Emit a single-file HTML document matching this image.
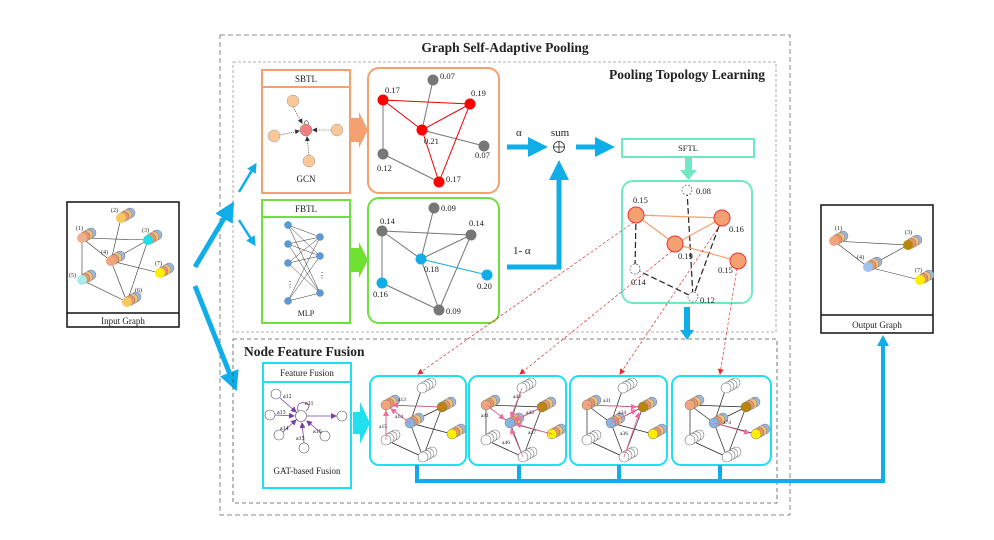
<!DOCTYPE html>
<html><head><meta charset="utf-8"><style>
html,body{margin:0;padding:0;background:#fff;width:994px;height:540px;overflow:hidden}
svg{display:block}
text{font-family:"Liberation Serif",serif;fill:#222}
</style></head><body>
<svg width="994" height="540" viewBox="0 0 994 540" xmlns="http://www.w3.org/2000/svg">
<defs>
<marker id="ab" markerWidth="4" markerHeight="4" refX="2" refY="2" orient="auto" markerUnits="strokeWidth"><path d="M0,0 L4,2 L0,4 z" fill="#10aee8"/></marker>
<marker id="ar" markerWidth="6" markerHeight="6" refX="5" refY="3" orient="auto" markerUnits="userSpaceOnUse"><path d="M0,0 L6,3 L0,6 z" fill="#e03030"/></marker>
<marker id="ap" markerWidth="6" markerHeight="6" refX="5" refY="3" orient="auto" markerUnits="userSpaceOnUse"><path d="M0,0 L6,3 L0,6 z" fill="#f06aa0"/></marker>
<marker id="av" markerWidth="6" markerHeight="6" refX="5" refY="3" orient="auto" markerUnits="userSpaceOnUse"><path d="M0,0 L6,3 L0,6 z" fill="#7b3fa0"/></marker>
<marker id="ak" markerWidth="5" markerHeight="5" refX="4" refY="2.5" orient="auto" markerUnits="userSpaceOnUse"><path d="M0,0 L5,2.5 L0,5 z" fill="#333"/></marker>
<g id="ws"><circle cx="9" cy="-5" r="5" fill="#fff" stroke="#777" stroke-width="0.6"/><circle cx="6" cy="-3.3" r="5" fill="#fff" stroke="#777" stroke-width="0.6"/><circle cx="3" cy="-1.6" r="5" fill="#fff" stroke="#777" stroke-width="0.6"/><circle cx="0" cy="0" r="5" fill="#fff" stroke="#777" stroke-width="0.6"/></g>
<g id="cs"><circle cx="9" cy="-5" r="5" fill="#9bb8e0" stroke="#777" stroke-width="0.5"/><circle cx="6" cy="-3.3" r="5" fill="#f2c07a" stroke="#777" stroke-width="0.5"/><circle cx="3" cy="-1.6" r="5" fill="#e8956a" stroke="#777" stroke-width="0.5"/></g>
<g id="base">
 <g stroke="#222" stroke-width="0.7" fill="none">
  <line x1="17" y1="29" x2="73" y2="31"/><line x1="17" y1="29" x2="41" y2="47"/><line x1="17" y1="29" x2="17" y2="64"/>
  <line x1="53" y1="12" x2="41" y2="47"/><line x1="73" y1="31" x2="41" y2="47"/><line x1="73" y1="31" x2="54" y2="81"/>
  <line x1="41" y1="47" x2="83" y2="58"/><line x1="41" y1="47" x2="54" y2="81"/><line x1="17" y1="64" x2="54" y2="81"/>
 </g>
 <use href="#ws" x="53" y="12"/>
 <use href="#cs" x="17" y="29"/><circle cx="17" cy="29" r="5" fill="#f0a57a" stroke="#777" stroke-width="0.5"/>
 <use href="#cs" x="73" y="31"/><circle cx="73" cy="31" r="5" fill="#b8860b" stroke="#777" stroke-width="0.5"/>
 <use href="#cs" x="41" y="47"/><circle cx="41" cy="47" r="5" fill="#8ab4e0" stroke="#777" stroke-width="0.5"/>
 <use href="#cs" x="83" y="58"/><circle cx="83" cy="58" r="5" fill="#ffee00" stroke="#777" stroke-width="0.5"/>
 <use href="#ws" x="17" y="64"/>
 <use href="#ws" x="54" y="81"/>
</g>
</defs>

<!-- Outer box -->
<rect x="220" y="35" width="570" height="480" fill="none" stroke="#666" stroke-width="0.8" stroke-dasharray="5,3"/>
<text x="505" y="52" text-anchor="middle" font-weight="bold" font-size="13.5">Graph Self-Adaptive Pooling</text>
<rect x="233" y="62" width="543" height="270" fill="none" stroke="#999" stroke-width="0.8" stroke-dasharray="3,2"/>
<text x="765" y="79" text-anchor="end" font-weight="bold" font-size="13.5">Pooling Topology Learning</text>

<!-- Input Graph -->
<rect x="67" y="202" width="112" height="125" fill="#fff" stroke="#111" stroke-width="1.5"/>
<line x1="67" y1="313" x2="179" y2="313" stroke="#111" stroke-width="1.5"/>
<text x="123" y="324" text-anchor="middle" font-size="9">Input Graph</text>
<g stroke="#333" stroke-width="0.6">
<line x1="82" y1="238" x2="148" y2="240"/><line x1="82" y1="238" x2="111" y2="261"/><line x1="82" y1="238" x2="82" y2="280"/>
<line x1="121" y1="218" x2="111" y2="261"/><line x1="148" y1="240" x2="111" y2="261"/><line x1="148" y1="240" x2="127" y2="302"/>
<line x1="111" y1="261" x2="160" y2="273"/><line x1="111" y1="261" x2="127" y2="302"/><line x1="82" y1="280" x2="127" y2="302"/>
</g>
<g font-size="6">
<text x="76" y="230">(1)</text><text x="111" y="212">(2)</text><text x="142" y="232">(3)</text><text x="101" y="254">(4)</text><text x="69" y="277">(5)</text><text x="135" y="292">(6)</text><text x="155" y="265">(7)</text>
</g>
<use href="#cs" x="82" y="238"/><circle cx="82" cy="238" r="5" fill="#f0b090"/>
<use href="#cs" x="121" y="218"/><circle cx="121" cy="218" r="5" fill="#f5c860"/>
<use href="#cs" x="148" y="240"/><circle cx="148" cy="240" r="5" fill="#22dde8"/>
<use href="#cs" x="111" y="261"/><circle cx="111" cy="261" r="5" fill="#f0a57a"/>
<use href="#cs" x="82" y="280"/><circle cx="82" cy="280" r="5" fill="#a8ecec"/>
<use href="#cs" x="127" y="302"/><circle cx="127" cy="302" r="5" fill="#f5c860"/>
<use href="#cs" x="160" y="273"/><circle cx="160" cy="273" r="5" fill="#ffee00"/>

<!-- Output Graph -->
<rect x="821" y="205" width="112" height="128" fill="#fff" stroke="#111" stroke-width="1.5"/>
<line x1="821" y1="315" x2="933" y2="315" stroke="#111" stroke-width="1.5"/>
<text x="877" y="328" text-anchor="middle" font-size="9">Output Graph</text>
<g stroke="#333" stroke-width="0.6"><line x1="834" y1="241" x2="908" y2="245"/><line x1="834" y1="241" x2="868" y2="267"/><line x1="908" y1="245" x2="868" y2="267"/><line x1="868" y1="267" x2="920" y2="280"/></g>
<g font-size="6"><text x="835" y="230">(1)</text><text x="905" y="234">(3)</text><text x="857" y="259">(4)</text><text x="915" y="272">(7)</text></g>
<use href="#cs" x="834" y="241"/><circle cx="834" cy="241" r="5" fill="#f0a57a"/>
<use href="#cs" x="908" y="245"/><circle cx="908" cy="245" r="5" fill="#b8860b"/>
<use href="#cs" x="868" y="267"/><circle cx="868" cy="267" r="5" fill="#9ec3ee"/>
<use href="#cs" x="920" y="280"/><circle cx="920" cy="280" r="5" fill="#ffee00"/>

<!-- Blue arrows from input -->
<line x1="195" y1="267" x2="229" y2="210" stroke="#10aee8" stroke-width="5" marker-end="url(#ab)"/>
<line x1="239" y1="192" x2="254" y2="167" stroke="#10aee8" stroke-width="2.5" marker-end="url(#ab)"/>
<line x1="239" y1="220" x2="253" y2="242" stroke="#10aee8" stroke-width="2.5" marker-end="url(#ab)"/>
<line x1="195" y1="286" x2="233" y2="382" stroke="#10aee8" stroke-width="5" marker-end="url(#ab)"/>

<!-- SBTL -->
<rect x="262" y="70" width="88" height="123" fill="#fff" stroke="#f4a070" stroke-width="2"/>
<line x1="262" y1="87" x2="350" y2="87" stroke="#f4a070" stroke-width="2"/>
<text x="306" y="82" text-anchor="middle" font-size="9">SBTL</text>
<text x="306" y="182" text-anchor="middle" font-size="9">GCN</text>
<g stroke="#333" stroke-width="0.6" stroke-dasharray="1.2,1">
<line x1="293" y1="107" x2="302" y2="123" marker-end="url(#ak)"/><line x1="280" y1="135" x2="299" y2="131" marker-end="url(#ak)"/>
<line x1="331" y1="130" x2="313" y2="130" marker-end="url(#ak)"/><line x1="309" y1="155" x2="307" y2="137" marker-end="url(#ak)"/>
</g>
<path d="M304,124 q2,-7 5,0" fill="none" stroke="#333" stroke-width="0.6"/>
<circle cx="306" cy="130" r="6" fill="#f08080" stroke="#888" stroke-width="0.5"/>
<g fill="#fac898" stroke="#999" stroke-width="0.5"><circle cx="293" cy="101" r="6"/><circle cx="274" cy="136" r="6"/><circle cx="337" cy="130" r="6"/><circle cx="309" cy="161" r="6"/></g>

<!-- FBTL -->
<rect x="262" y="200" width="88" height="123" fill="#fff" stroke="#70e040" stroke-width="2"/>
<line x1="262" y1="217" x2="350" y2="217" stroke="#70e040" stroke-width="2"/>
<text x="306" y="212" text-anchor="middle" font-size="9">FBTL</text>
<text x="306" y="316" text-anchor="middle" font-size="8">MLP</text>
<g stroke="#333" stroke-width="0.5">
<path d="M288,225L320,237M288,225L320,256M288,225L320,293M288,244L320,237M288,244L320,256M288,244L320,293M288,263L320,237M288,263L320,256M288,263L320,293M288,301L320,237M288,301L320,256M288,301L320,293"/>
</g>
<g fill="#5b9bd5" stroke="#3a6ea5" stroke-width="0.4"><circle cx="288" cy="225" r="3.5"/><circle cx="288" cy="244" r="3.5"/><circle cx="288" cy="263" r="3.5"/><circle cx="288" cy="301" r="3.5"/><circle cx="320" cy="237" r="3.5"/><circle cx="320" cy="256" r="3.5"/><circle cx="320" cy="293" r="3.5"/></g>
<text x="286" y="287" font-size="8">⋮</text><text x="318" y="278" font-size="8">⋮</text>

<!-- big arrows -->
<path d="M351,118 L359,118 L359,112 L368,130 L359,148 L359,142 L351,142 Z" fill="#f4a070"/>
<path d="M351,248 L359,248 L359,242 L368,260 L359,278 L359,272 L351,272 Z" fill="#70e030"/>

<!-- orange graph -->
<rect x="368" y="68" width="131" height="125" rx="11" fill="#fff" stroke="#f4a070" stroke-width="2"/>
<g stroke="#777" stroke-width="1"><line x1="433" y1="80" x2="422" y2="130"/><line x1="422" y1="130" x2="484" y2="146"/><line x1="383" y1="100" x2="383" y2="154"/><line x1="383" y1="154" x2="439" y2="182"/></g>
<g stroke="#e00" stroke-width="1"><line x1="383" y1="100" x2="470" y2="104"/><line x1="383" y1="100" x2="422" y2="130"/><line x1="422" y1="130" x2="470" y2="104"/><line x1="470" y1="104" x2="439" y2="182"/><line x1="422" y1="130" x2="439" y2="182"/></g>
<g fill="#777"><circle cx="433" cy="80" r="5.5"/><circle cx="484" cy="146" r="5.5"/><circle cx="383" cy="154" r="5.5"/></g>
<g fill="#f00"><circle cx="383" cy="100" r="5.5"/><circle cx="470" cy="104" r="5.5"/><circle cx="422" cy="130" r="5.5"/><circle cx="439" cy="182" r="5.5"/></g>
<g font-size="8.5"><text x="440" y="79">0.07</text><text x="385" y="93">0.17</text><text x="471" y="96">0.19</text><text x="424" y="144">0.21</text><text x="475" y="158">0.07</text><text x="377" y="171">0.12</text><text x="446" y="182">0.17</text></g>

<!-- green graph -->
<rect x="368" y="198" width="131" height="125" rx="11" fill="#fff" stroke="#70e040" stroke-width="2"/>
<g stroke="#777" stroke-width="1"><line x1="382" y1="231" x2="471" y2="235"/><line x1="382" y1="231" x2="421" y2="259"/><line x1="434" y1="208" x2="421" y2="259"/><line x1="421" y1="259" x2="471" y2="235"/><line x1="471" y1="235" x2="439" y2="310"/><line x1="382" y1="231" x2="382" y2="283"/><line x1="382" y1="283" x2="439" y2="310"/><line x1="421" y1="259" x2="439" y2="310"/></g>
<line x1="421" y1="259" x2="487" y2="275" stroke="#10aee8" stroke-width="1"/>
<g fill="#777"><circle cx="434" cy="208" r="5.5"/><circle cx="382" cy="231" r="5.5"/><circle cx="471" cy="235" r="5.5"/><circle cx="439" cy="310" r="5.5"/></g>
<g fill="#10aee8"><circle cx="421" cy="259" r="5.5"/><circle cx="487" cy="275" r="5.5"/><circle cx="382" cy="283" r="5.5"/></g>
<g font-size="8.5"><text x="441" y="211">0.09</text><text x="380" y="224">0.14</text><text x="469" y="226">0.14</text><text x="424" y="272">0.18</text><text x="477" y="289">0.20</text><text x="373" y="297">0.16</text><text x="446" y="314">0.09</text></g>

<!-- alpha / sum -->
<text x="516" y="136" font-size="11">α</text>
<line x1="507" y1="147" x2="538" y2="147" stroke="#10aee8" stroke-width="5" marker-end="url(#ab)"/>
<text x="560" y="136" text-anchor="middle" font-size="11">sum</text>
<circle cx="559" cy="147" r="5.5" fill="#fff" stroke="#222" stroke-width="0.8"/><line x1="553.5" y1="147" x2="564.5" y2="147" stroke="#222" stroke-width="0.8"/><line x1="559" y1="141.5" x2="559" y2="152.5" stroke="#222" stroke-width="0.8"/>
<line x1="576" y1="147" x2="605" y2="147" stroke="#10aee8" stroke-width="5" marker-end="url(#ab)"/>
<text x="513" y="254" font-size="11">1- α</text>
<path d="M507,267 L559,267 L559,170" fill="none" stroke="#10aee8" stroke-width="5" marker-end="url(#ab)"/>

<!-- SFTL -->
<rect x="622" y="139" width="132" height="18" fill="#fff" stroke="#6fe8c8" stroke-width="2"/>
<text x="688" y="151" text-anchor="middle" font-size="8.5">SFTL</text>
<path d="M685,158 L692,158 L692,170 L697,170 L688.5,180 L680,170 L685,170 Z" fill="#6fe8c8"/>
<rect x="622" y="181" width="130" height="122" rx="11" fill="#fff" stroke="#6fe8c8" stroke-width="2"/>
<g stroke="#222" stroke-width="1.2" stroke-dasharray="6,3" fill="none"><line x1="687" y1="190" x2="693" y2="297"/><line x1="636" y1="215" x2="635" y2="269"/><line x1="635" y1="269" x2="693" y2="297"/><line x1="722" y1="218" x2="693" y2="297"/></g>
<g stroke="#f4a070" stroke-width="1.2"><line x1="636" y1="215" x2="722" y2="218"/><line x1="636" y1="215" x2="675" y2="244"/><line x1="675" y1="244" x2="722" y2="218"/><line x1="675" y1="244" x2="738" y2="261"/></g>
<g fill="#fff" stroke="#555" stroke-width="0.7" stroke-dasharray="2,1.5"><circle cx="687" cy="190" r="5"/><circle cx="635" cy="269" r="5"/><circle cx="693" cy="297" r="5"/></g>
<g fill="#f4a070" stroke="#e33" stroke-width="1"><circle cx="636" cy="215" r="8"/><circle cx="722" cy="218" r="8"/><circle cx="675" cy="244" r="8"/><circle cx="738" cy="261" r="8"/></g>
<g fill="#f4a070"><circle cx="636" cy="215" r="5.5"/><circle cx="722" cy="218" r="5.5"/><circle cx="675" cy="244" r="5.5"/><circle cx="738" cy="261" r="5.5"/></g>
<g font-size="8.5"><text x="696" y="194">0.08</text><text x="633" y="203">0.15</text><text x="729" y="232">0.16</text><text x="678" y="259">0.19</text><text x="718" y="273">0.15</text><text x="631" y="285">0.14</text><text x="700" y="303">0.12</text></g>
<line x1="687" y1="307" x2="687" y2="332" stroke="#10aee8" stroke-width="6"/>
<path d="M680,330 L694,330 L687,340 Z" fill="#10aee8"/>

<!-- Node Feature Fusion -->
<rect x="233" y="339" width="544" height="164" fill="none" stroke="#555" stroke-width="0.8" stroke-dasharray="4,3"/>
<text x="244" y="356" font-weight="bold" font-size="13.5">Node Feature Fusion</text>
<rect x="263" y="363" width="88" height="125" fill="#fff" stroke="#20e0f0" stroke-width="2"/>
<line x1="263" y1="382" x2="351" y2="382" stroke="#20e0f0" stroke-width="2"/>
<text x="307" y="376" text-anchor="middle" font-size="9">Feature Fusion</text>
<text x="307" y="474" text-anchor="middle" font-size="9">GAT-based Fusion</text>
<g stroke="#7b3fa0" stroke-width="0.8">
<line x1="280" y1="398" x2="296" y2="412" marker-end="url(#av)"/><line x1="275" y1="415" x2="294" y2="416" marker-end="url(#av)"/><line x1="283" y1="432" x2="296" y2="420" marker-end="url(#av)"/>
<line x1="304" y1="443" x2="302" y2="423" marker-end="url(#av)"/><line x1="321" y1="433" x2="307" y2="421" marker-end="url(#av)"/><line x1="307" y1="416" x2="336" y2="416" marker-end="url(#av)"/>
</g>
<path d="M298,411 q-2,-10 8,-8 q6,2 0,8" fill="none" stroke="#7b3fa0" stroke-width="0.8"/>
<g fill="#fff" stroke="#555" stroke-width="0.6"><circle cx="276" cy="394" r="5"/><circle cx="270" cy="415" r="5"/><circle cx="279" cy="435" r="5"/><circle cx="304" cy="448" r="5"/><circle cx="325" cy="436" r="5"/><circle cx="342" cy="416" r="5"/><circle cx="301" cy="416" r="5.5"/></g>
<g font-size="6"><text x="283" y="398">a12</text><text x="277" y="414">a13</text><text x="305" y="405">a11</text><text x="280" y="430">a14</text><text x="296" y="440">a15</text><text x="313" y="433">a16</text></g>
<path d="M353,412 L360,412 L360,402 L370,423 L360,444 L360,434 L353,434 Z" fill="#20e0f0"/>

<!-- four boxes -->
<g fill="#fff" stroke="#20e0f0" stroke-width="2">
<rect x="370" y="376" width="96" height="89" rx="9"/><rect x="469" y="376" width="97" height="89" rx="9"/><rect x="570" y="376" width="97" height="89" rx="9"/><rect x="672" y="376" width="99" height="89" rx="9"/>
</g>
<use href="#base" x="369" y="376"/>
<use href="#base" x="469" y="376"/>
<use href="#base" x="570" y="376"/>
<use href="#base" x="673" y="376"/>
<g stroke="#f06aa0" stroke-width="0.8">
<!-- box1 -->
<line x1="442" y1="407" x2="393" y2="405" marker-end="url(#ap)"/><line x1="410" y1="423" x2="391" y2="409" marker-end="url(#ap)"/><line x1="386" y1="440" x2="386" y2="411" marker-end="url(#ap)"/>
<!-- box2 -->
<line x1="522" y1="388" x2="511" y2="417" marker-end="url(#ap)"/><line x1="487" y1="405" x2="504" y2="419" marker-end="url(#ap)"/><line x1="542" y1="407" x2="515" y2="420" marker-end="url(#ap)"/><line x1="552" y1="434" x2="516" y2="424" marker-end="url(#ap)"/><line x1="523" y1="457" x2="511" y2="429" marker-end="url(#ap)"/>
<!-- box3 -->
<line x1="587" y1="405" x2="636" y2="407" marker-end="url(#ap)"/><line x1="611" y1="423" x2="636" y2="410" marker-end="url(#ap)"/><line x1="624" y1="457" x2="639" y2="413" marker-end="url(#ap)"/>
<!-- box4 -->
<line x1="714" y1="423" x2="749" y2="433" marker-end="url(#ap)"/>
</g>
<g font-size="5.5">
<text x="398" y="401">a13</text><text x="395" y="418">a14</text><text x="379" y="428">a15</text>
<text x="513" y="398">a42</text><text x="481" y="417">a41</text><text x="526" y="414">a43</text><text x="528" y="434">a47</text><text x="502" y="444">a46</text>
<text x="603" y="402">a31</text><text x="618" y="414">a34</text><text x="620" y="435">a36</text>
<text x="723" y="424">a74</text>
</g>

<!-- red dashed arrows -->
<g stroke="#e03030" stroke-width="0.7" stroke-dasharray="3,2" fill="none">
<line x1="634" y1="222" x2="418" y2="374" marker-end="url(#ar)"/>
<line x1="672" y1="251" x2="520" y2="374" marker-end="url(#ar)"/>
<line x1="720" y1="225" x2="620" y2="374" marker-end="url(#ar)"/>
<line x1="737" y1="268" x2="720" y2="374" marker-end="url(#ar)"/>
</g>

<!-- bus -->
<g stroke="#10aee8" stroke-width="4" fill="none">
<line x1="417" y1="465" x2="417" y2="481"/><line x1="519" y1="465" x2="519" y2="481"/><line x1="619" y1="465" x2="619" y2="481"/><line x1="720" y1="465" x2="720" y2="481"/>
<path d="M415,481 L883,481 L883,345"/>
</g>
<path d="M877,346 L889,346 L883,335 Z" fill="#10aee8"/>
</svg>
</body></html>
